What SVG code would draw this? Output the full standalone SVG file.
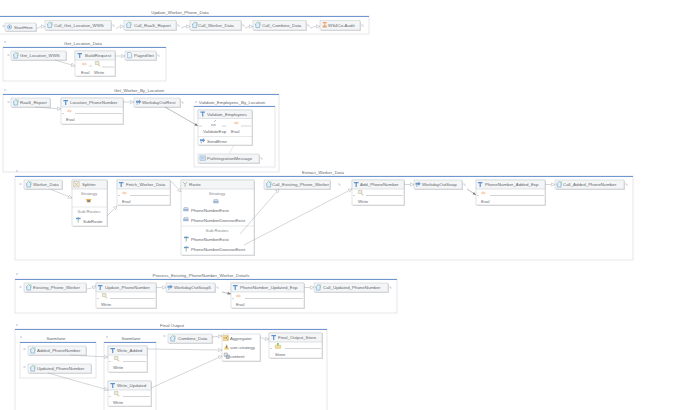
<svg xmlns="http://www.w3.org/2000/svg" width="680" height="410" viewBox="0 0 680 410">
<style>
text{font-family:"Liberation Sans",Arial,sans-serif;font-size:4.4px;fill:#63676c}
.title{text-anchor:middle;font-size:4.4px}
.mid{text-anchor:middle;fill:#8a8e93}
.frame{fill:#fff;stroke:#e0e2e5;stroke-width:.8}
.bar{fill:none;stroke:#6f96d0;stroke-width:1}
.shadow{fill:#d8dadc}
.card{fill:#fff;stroke:#c4c7cb;stroke-width:.5}
.head{fill:#f4f5f6;stroke:#c4c7cb;stroke-width:.5}
.rule{stroke:#cdd0d3;stroke-width:.5;fill:none}
.wire{stroke:#b0b3b6;stroke-width:.55;fill:none;marker-end:url(#tip)}
.dark{stroke:#8c8e91;stroke-width:.6;fill:none;marker-end:url(#tipd)}
.port{stroke:#a2a5a9;stroke-width:.45;fill:none}
.flow{stroke:#a8abae;stroke-width:.5;fill:none}
.mark{fill:#bcd2ea}
</style>
<defs>
<marker id="tip" viewBox="0 0 6 6" refX="5.500" refY="3" markerWidth="4.500" markerHeight="4.500" markerUnits="userSpaceOnUse" orient="auto"><path d="M.5 .8L5.5 3L.5 5.2Z" fill="#fff" stroke="#b0b3b6" stroke-width=".7"/></marker>
<marker id="tipd" viewBox="0 0 6 6" refX="5.500" refY="3" markerWidth="4" markerHeight="4" markerUnits="userSpaceOnUse" orient="auto"><path d="M.5 .8L5.5 3L.5 5.2Z" fill="#7c7e80"/></marker>
<g id="call"><path d="M0 2.6L2.7 0L5.4 2.6L4.6 2.6V5.6H.8V2.6Z" fill="#e4eff6" stroke="#5c9dc2" stroke-width=".55"/><path d="M3.6 .4h1.6v1.4" fill="none" stroke="#7cbd7c" stroke-width=".5"/></g>
<g id="map"><path d="M.4 .6H5V1.7H3.3V5.4H2.1V1.7H.4Z" fill="#5c93cf"/></g>
<g id="rest"><path d="M0 1.2H3V0L5.2 2.2L3 4.4V3.2H0Z" fill="#6b98cc"/><path d="M.6 3.8H2V5.2H.6Z" fill="#a3bfde"/></g>
<g id="page"><path d="M.6 0H3.4L4.6 1.2V5.4H.6Z" fill="#eef3f9" stroke="#6b98cc" stroke-width=".5"/></g>
<g id="eval"><path d="M0 1H4.6" stroke="#f09a64" stroke-width=".7"/><path d="M1 0H3.8M1 2H3.8" stroke="#f5c3a0" stroke-width=".35"/></g>
<g id="write"><path d="M.4 0H4V3H.4Z" fill="#efebd6" stroke="#a3a392" stroke-width=".4"/><path d="M3.2 3.6L5.4 4.6" stroke="#d2ab58" stroke-width=".7"/></g>
<g id="route"><path d="M2.2 0V5.5" stroke="#7aae84" stroke-width=".8"/><path d="M0 .8H4.6V2.2H0Z" fill="#6b98cc"/></g>
<g id="choice"><path d="M.2 1.6H5.6V4.2H.2Z" fill="#a0b7d2"/><path d="M1 1.6V.6H4.8V1.6" fill="none" stroke="#7894b5" stroke-width=".5"/></g>
<g id="store"><path d="M.3 2.2H5.7V5.4H.3Z" fill="#f4e09c" stroke="#c7ab58" stroke-width=".4"/><path d="M2 0L3.8 0L3.8 2.4H2Z" fill="#91bf83"/></g>
<g id="msg"><path d="M0 .4H5.4V4.8H0Z" fill="#e6eff7" stroke="#6b98cc" stroke-width=".5"/><path d="M1 2H4.4M1 3.2H4.4" stroke="#6b98cc" stroke-width=".4"/></g>
<g id="agg"><path d="M0 0H5.5V5H0Z" fill="#f4e09c" stroke="#cf9f4c" stroke-width=".4"/><path d="M.8 2.4H3L4.8 .8M3 2.4L4.8 4" stroke="#7d6238" stroke-width=".5" fill="none"/></g>
<g id="strat"><path d="M0 5.5L2.6 0L5.2 5.5Z" fill="#f3c56c"/><path d="M2.6 1.6V4" stroke="#4d78af" stroke-width=".9"/></g>
<g id="doc"><path d="M.2 0H3.400V3.400H.2Z" fill="#e4e7eb" stroke="#6c7682" stroke-width=".4"/><path d="M2.2 2.2H5.400V5.400H2.200Z" fill="#b1c2d4" stroke="#6c7682" stroke-width=".4"/></g>
<g id="split"><path d="M.2 0H5.6V5.4H.2Z" fill="#f5f2e8" stroke="#a3a090" stroke-width=".4"/><path d="M1 1L4.8 4.6M1 4.6L4.8 1" stroke="#c2a058" stroke-width=".5"/></g>
<g id="fan"><path d="M0 1H5.4L4.4 4.6H1Z" fill="#edb258"/><path d="M1.4 3H4" stroke="#4d78af" stroke-width="1.4"/></g>
<g id="y"><path d="M2.6 5.4V2.8L.4 .4M2.6 2.8L4.8 .4" fill="none" stroke="#93b995" stroke-width=".8"/></g>
<g id="start"><circle cx="2.6" cy="2.6" r="2.2" fill="#e8f0f9" stroke="#6b98cc" stroke-width=".5"/><path d="M1.8 1.4L3.8 2.6L1.8 3.8Z" fill="#4d82bf"/></g>
<g id="audit"><path d="M.6 0H4.8V1.2H3.2V3.6H4.8V5.6H.6V3.6H2.2V1.2H.6Z" fill="#e9a678"/></g>
</defs>

<!-- section frames -->
<g id="frames">
<rect class="frame" x="-1" y="16" width="370" height="18"/><path class="bar" d="M-1 16.500H369"/>
<rect class="frame" x="3" y="47" width="163" height="34"/><path class="bar" d="M3 47.500H166"/>
<rect class="frame" x="3" y="94" width="276" height="78"/><path class="bar" d="M3 94.500H279"/>
<rect class="frame" x="194" y="106" width="81" height="61"/><path class="bar" d="M194 106.500H275"/>
<rect class="frame" x="15" y="176" width="618" height="84"/><path class="bar" d="M15 176.500H633"/>
<rect class="frame" x="15" y="279" width="382" height="34"/><path class="bar" d="M15 279.500H397"/>
<rect class="frame" x="15" y="329" width="312" height="90"/><path class="bar" d="M15 329.500H327"/>
<rect class="frame" x="20" y="342" width="76" height="36"/><path class="bar" d="M20 342.500H96"/>
<rect class="frame" x="104" y="342" width="52" height="78"/><path class="bar" d="M104 342.500H156"/>
<g class="mark"><circle cx="5" cy="42" r=".9"/><circle cx="5" cy="90" r=".9"/><circle cx="17" cy="171" r=".9"/><circle cx="17" cy="274" r=".9"/><circle cx="17" cy="325" r=".9"/><circle cx="21" cy="337" r=".9"/><circle cx="107" cy="337" r=".9"/><circle cx="196" cy="102" r=".9"/></g>
<text class="title" x="180" y="14">Update_Worker_Phone_Data</text>
<text class="title" x="83" y="45">Get_Location_Data</text>
<text class="title" x="139" y="91.500">Get_Worker_By_Location</text>
<text class="title" x="232" y="104">Validate_Employees_By_Location</text>
<text class="title" x="323" y="173.500">Extract_Worker_Data</text>
<text class="title" x="201" y="276.500">Process_Existing_PhoneNumber_Worker_Details</text>
<text class="title" x="172" y="326.500">Final Output</text>
<text class="title" x="56" y="339.500">Swimlane</text>
<text class="title" x="131" y="339.500">Swimlane</text>
</g>

<!-- Update_Worker_Phone_Data -->
<g id="start-here"><rect class="shadow" x="6" y="24" width="31" height="8"/><rect class="head" x="5" y="23" width="31" height="8"/><use href="#start" x="7" y="24.400"/><text x="14" y="28.600">StartHere</text></g>
<g id="call-get-location"><rect class="shadow" x="46" y="21.500" width="66" height="9.500"/><rect class="head" x="45" y="20.500" width="66" height="9.500"/><use href="#call" x="47" y="22"/><text x="54" y="26.800">Call_Get_Location_WWS</text></g>
<g id="call-raas"><rect class="shadow" x="125" y="21.500" width="52" height="9.500"/><rect class="head" x="124" y="20.500" width="52" height="9.500"/><use href="#call" x="126" y="22"/><text x="134" y="26.800">Call_RaaS_Report</text></g>
<g id="call-worker"><rect class="shadow" x="191" y="21.500" width="51" height="9.500"/><rect class="head" x="190" y="20.500" width="51" height="9.500"/><use href="#call" x="192" y="22"/><text x="198" y="26.800">Call_Worker_Data</text></g>
<g id="call-combine"><rect class="shadow" x="254" y="21.500" width="53" height="9.500"/><rect class="head" x="253" y="20.500" width="53" height="9.500"/><use href="#call" x="255" y="22"/><text x="262" y="26.800">Call_Combine_Data</text></g>
<g id="ws4co"><rect class="shadow" x="321" y="21.500" width="40" height="9.500"/><rect class="head" x="320" y="20.500" width="40" height="9.500"/><use href="#audit" x="322" y="22"/><text x="328" y="26.800">WS4Co-Audit</text></g>

<!-- Get_Location_Data -->
<g id="get-location"><rect class="shadow" x="12" y="52" width="55" height="9"/><rect class="head" x="11" y="51" width="55" height="9"/><use href="#call" x="13" y="52.500"/><text x="20" y="57">Get_Location_WWS</text></g>
<g id="build-request"><rect class="shadow" x="76" y="52" width="40" height="25"/><rect class="card" x="75" y="51" width="40" height="25"/><rect class="head" x="75" y="51" width="40" height="9"/><use href="#map" x="77" y="52.500"/><text x="85" y="57">BuildRequest</text><use href="#eval" x="82" y="63"/><use href="#write" x="95" y="61.500"/><path class="flow" d="M89 66H92M102 67H114"/><text x="81" y="73.500">Eval</text><text x="94" y="73.500">Write</text></g>
<g id="paged-get"><rect class="shadow" x="126" y="52" width="31" height="9"/><rect class="head" x="125" y="51" width="31" height="9"/><use href="#page" x="127" y="52.500"/><text x="134" y="57">PagedGet</text></g>

<!-- Get_Worker_By_Location -->
<g id="raas-report"><rect class="shadow" x="12" y="99" width="39" height="9"/><rect class="head" x="11" y="98" width="39" height="9"/><use href="#call" x="13" y="99.500"/><text x="20" y="104">RaaS_Report</text></g>
<g id="location-phone"><rect class="shadow" x="62" y="99" width="62" height="26"/><rect class="card" x="61" y="98" width="62" height="26"/><rect class="head" x="61" y="98" width="62" height="9"/><use href="#map" x="63" y="99.500"/><text x="70" y="104">Location_PhoneNumber</text><use href="#eval" x="67" y="110"/><path class="flow" d="M62 113.500H64M75 113.500H122"/><text x="66" y="120.500">Eval</text></g>
<g id="workday-rest"><rect class="shadow" x="135" y="99" width="46" height="9"/><rect class="head" x="134" y="98" width="46" height="9"/><use href="#rest" x="136" y="99.500"/><text x="142" y="104">WorkdayOutRest</text></g>
<g id="validate-employees"><rect class="shadow" x="199" y="111" width="54" height="35"/><rect class="card" x="198" y="110" width="54" height="35"/><rect class="head" x="198" y="110" width="54" height="8.500"/><use href="#map" x="200" y="111"/><text x="207" y="116">Validate_Employees</text><path class="rule" d="M198 136.500H252"/><path d="M211 125H216" stroke="#85888c" stroke-width=".8"/><path d="M214 122L216 120" stroke="#6b98cc" stroke-width=".6"/><use href="#eval" x="234" y="122"/><path class="flow" d="M199 126H202M222 126H226M241 126H251"/><text x="203" y="133">ValidateExp</text><text x="231" y="133">Eval</text><use href="#rest" x="200" y="138"/><text x="207" y="142.500">SendError</text></g>
<g id="put-integration"><rect class="shadow" x="199" y="155" width="61" height="9"/><rect class="head" x="198" y="154" width="61" height="9"/><use href="#msg" x="200" y="155.500"/><text x="207" y="160.300">PutIntegrationMessage</text></g>

<!-- Extract_Worker_Data -->
<g id="worker-data"><rect class="shadow" x="25" y="181" width="38" height="9"/><rect class="head" x="24" y="180" width="38" height="9"/><use href="#call" x="26" y="181.500"/><text x="33" y="186">Worker_Data</text></g>
<g id="splitter"><rect class="shadow" x="73" y="181" width="35" height="46"/><rect class="card" x="72" y="180" width="35" height="46"/><rect class="head" x="72" y="180" width="35" height="9"/><use href="#split" x="73.500" y="181.500"/><text x="82" y="186">Splitter</text><text class="mid" x="89" y="194.500">Strategy</text><use href="#fan" x="86" y="198"/><path class="rule" d="M72 207H107"/><text class="mid" x="89" y="213">Sub Routes</text><use href="#route" x="76" y="217"/><text x="83" y="222.500">SubRoute</text></g>
<g id="fetch-worker"><rect class="shadow" x="118" y="181" width="53" height="25"/><rect class="card" x="117" y="180" width="53" height="25"/><rect class="head" x="117" y="180" width="53" height="9"/><use href="#map" x="118.500" y="181.500"/><text x="126" y="186">Fetch_Worker_Data</text><use href="#eval" x="122" y="192"/><path class="flow" d="M118 195.500H120M130 195.500H169"/><text x="122" y="202.500">Eval</text></g>
<g id="route-node"><rect class="shadow" x="182" y="181" width="73" height="75"/><rect class="card" x="181" y="180" width="73" height="75"/><rect class="head" x="181" y="180" width="73" height="9"/><use href="#y" x="182.500" y="181.500"/><text x="189" y="186">Route</text><text class="mid" x="217" y="194.500">Strategy</text><use href="#choice" x="213" y="199"/><use href="#choice" x="183" y="207"/><text x="191" y="211.800">PhoneNumberExist</text><use href="#choice" x="183" y="217"/><text x="191" y="221.800">PhoneNumberDoesnotExist</text><path class="rule" d="M181 226H254"/><text class="mid" x="217" y="232">Sub Routes</text><use href="#route" x="184" y="236"/><text x="191" y="240.800">PhoneNumberExist</text><use href="#route" x="184" y="246"/><text x="191" y="250.800">PhoneNumberDoesnotExist</text></g>
<g id="call-existing"><rect class="shadow" x="265" y="181" width="66" height="9"/><rect class="head" x="264" y="180" width="66" height="9"/><use href="#call" x="266" y="181.500"/><text x="272" y="186">Call_Existing_Phone_Worker</text></g>
<g id="add-phone"><rect class="shadow" x="353" y="181" width="52" height="25"/><rect class="card" x="352" y="180" width="52" height="25"/><rect class="head" x="352" y="180" width="52" height="9"/><use href="#map" x="353.500" y="181.500"/><text x="360" y="186">Add_PhoneNumber</text><use href="#write" x="358" y="190.500"/><path class="flow" d="M353 195.500H355M366 195.500H403"/><text x="358" y="202.500">Write</text></g>
<g id="workday-soap"><rect class="shadow" x="415" y="181" width="48" height="9"/><rect class="head" x="414" y="180" width="48" height="9"/><use href="#rest" x="415.500" y="181.500"/><text x="422" y="186">WorkdayOutSoap</text></g>
<g id="phone-added"><rect class="shadow" x="477" y="181" width="69" height="25"/><rect class="card" x="476" y="180" width="69" height="25"/><rect class="head" x="476" y="180" width="69" height="9"/><use href="#map" x="477.500" y="181.500"/><text x="485" y="186">PhoneNumber_Added_Exp</text><use href="#eval" x="481" y="192"/><path class="flow" d="M477 195.500H479M490 195.500H544"/><text x="481" y="202.500">Eval</text></g>
<g id="call-added"><rect class="shadow" x="556" y="181" width="69" height="9"/><rect class="head" x="555" y="180" width="69" height="9"/><use href="#call" x="556.500" y="181.500"/><text x="563" y="186">Call_Added_PhoneNumber</text></g>

<!-- Process_Existing_PhoneNumber_Worker_Details -->
<g id="existing-phone"><rect class="shadow" x="25" y="284" width="62" height="9"/><rect class="head" x="24" y="283" width="62" height="9"/><use href="#call" x="26" y="284.500"/><text x="33" y="289">Existing_Phone_Worker</text></g>
<g id="update-phone"><rect class="shadow" x="97" y="284" width="60" height="25"/><rect class="card" x="96" y="283" width="60" height="25"/><rect class="head" x="96" y="283" width="60" height="9"/><use href="#map" x="97.500" y="284.500"/><text x="105" y="289">Update_PhoneNumber</text><use href="#write" x="102" y="293.500"/><path class="flow" d="M97 298.500H99M110 298.500H155"/><text x="101" y="305.500">Write</text></g>
<g id="workday-soap5"><rect class="shadow" x="167" y="284" width="49" height="9"/><rect class="head" x="166" y="283" width="49" height="9"/><use href="#rest" x="167.500" y="284.500"/><text x="174" y="289">WorkdayOutSoap5</text></g>
<g id="phone-updated"><rect class="shadow" x="232" y="284" width="73" height="25"/><rect class="card" x="231" y="283" width="73" height="25"/><rect class="head" x="231" y="283" width="73" height="9"/><use href="#map" x="232.500" y="284.500"/><text x="240" y="289">PhoneNumber_Updated_Exp</text><use href="#eval" x="236" y="295"/><path class="flow" d="M232 298.500H234M245 298.500H303"/><text x="236" y="305.500">Eval</text></g>
<g id="call-updated"><rect class="shadow" x="315" y="284" width="74" height="9"/><rect class="head" x="314" y="283" width="74" height="9"/><use href="#call" x="315.500" y="284.500"/><text x="323" y="289">Call_Updated_PhoneNumber</text></g>

<!-- Final Output -->
<g id="added-phone"><rect class="shadow" x="29" y="347" width="58" height="9"/><rect class="head" x="28" y="346" width="58" height="9"/><use href="#call" x="30" y="347.500"/><text x="37" y="352">Added_PhoneNumber</text></g>
<g id="updated-phone"><rect class="shadow" x="29" y="365" width="63" height="9"/><rect class="head" x="28" y="364" width="63" height="9"/><use href="#call" x="30" y="365.500"/><text x="37" y="370">Updated_PhoneNumber</text></g>
<g id="write-added"><rect class="shadow" x="109" y="347" width="39" height="26"/><rect class="card" x="108" y="346" width="39" height="26"/><rect class="head" x="108" y="346" width="39" height="9"/><use href="#map" x="110" y="347.500"/><text x="117" y="352">Write_Added</text><use href="#write" x="114" y="356.500"/><path class="flow" d="M109 361.500H111M123 361.500H146"/><text x="113" y="368.500">Write</text></g>
<g id="write-updated"><rect class="shadow" x="109" y="382" width="43" height="25"/><rect class="card" x="108" y="381" width="43" height="25"/><rect class="head" x="108" y="381" width="43" height="9"/><use href="#map" x="110" y="382.500"/><text x="117" y="387">Write_Updated</text><use href="#write" x="114" y="391.500"/><path class="flow" d="M109 396.500H111M123 396.500H150"/><text x="113" y="403.500">Write</text></g>
<g id="combine-data"><rect class="shadow" x="169" y="335" width="44" height="9"/><rect class="head" x="168" y="334" width="44" height="9"/><use href="#call" x="170" y="335.500"/><text x="178" y="340">Combine_Data</text></g>
<g id="aggregator"><rect class="shadow" x="223" y="335" width="38" height="27"/><rect class="card" x="222" y="334" width="38" height="27"/><use href="#agg" x="223" y="335.500"/><text x="230" y="340">Aggregator</text><use href="#strat" x="224" y="344"/><text x="230" y="348.800">size-strategy</text><use href="#doc" x="224" y="353"/><text x="230" y="357.800">content</text></g>
<g id="final-store"><rect class="shadow" x="270" y="334" width="53" height="25"/><rect class="card" x="269" y="333" width="53" height="25"/><rect class="head" x="269" y="333" width="53" height="9"/><use href="#map" x="271" y="334.500"/><text x="278" y="339">Final_Output_Store</text><use href="#store" x="275" y="343"/><path class="flow" d="M270 348.500H272M285 348.500H321"/><text x="275" y="355.500">Store</text></g>

<!-- connectors between nodes -->
<g id="connectors">
<path class="wire" d="M37 28.500L41 26.500H45"/>
<path class="wire" d="M116 28.500L120 26.500H124"/>
<path class="wire" d="M181 28L185 26.500H190"/>
<path class="wire" d="M245 28L249 26.500H253"/>
<path class="wire" d="M310 28L315 26.500H320"/>
<path class="wire" d="M55 60L75 66"/>
<path class="wire" d="M115 56H125"/>
<path class="wire" d="M35 107L61 109"/>
<path class="wire" d="M123 102H134"/>
<path class="dark" d="M165 107L198 126"/>
<path class="rule" d="M234 145L229 154"/>
<path class="wire" d="M50 189L72 198"/>
<path class="wire" d="M107 216L117 206"/>
<path class="wire" d="M171 181L181 192"/>
<path class="wire" d="M240 234L279 189"/>
<path class="wire" d="M244 245L352 189"/>
<path class="wire" d="M404 184.500H414"/>
<path class="dark" d="M467 189L476 195"/>
<path class="wire" d="M545 184.500H555"/>
<path class="wire" d="M87 289L92 288L96 286"/>
<path class="wire" d="M156 287.500H166"/>
<path class="dark" d="M222 292L231 294"/>
<path class="wire" d="M304 287.500H314"/>
<path class="wire" d="M70 355L108 357"/>
<path class="wire" d="M48 373L108 390"/>
<path class="wire" d="M147 349L222 350"/>
<path class="wire" d="M151 388L222 356"/>
<path class="wire" d="M212 337L222 336"/>
<path class="wire" d="M260 337L264 339H269"/>
</g>

<!-- terminal ticks on node edges -->
<g id="ports" class="port">
<path d="M2 26H4M4 25V27"/><path d="M113 24V26H115"/><path d="M178 24V26H180"/><path d="M243 24V26H245"/><path d="M308 24V26H310"/><path d="M362 24V26H364"/>
<path d="M7 55H9M9 54V56"/><path d="M158 54V56H160"/>
<path d="M7 102H9M9 101V103"/><path d="M182 101V103H184"/><path d="M261 157V159H263"/>
<path d="M19 184H21M21 183V185"/><path d="M339 183V185H341"/><path d="M464 183V185H466"/><path d="M626 183V185H628"/>
<path d="M19 287H21M21 286V288"/><path d="M217 286V288H219"/><path d="M390 286V288H392"/>
<path d="M23 349H25M25 348V350"/><path d="M23 367H25M25 366V368"/><path d="M163 336H165M165 335V337"/>
</g>
</svg>
